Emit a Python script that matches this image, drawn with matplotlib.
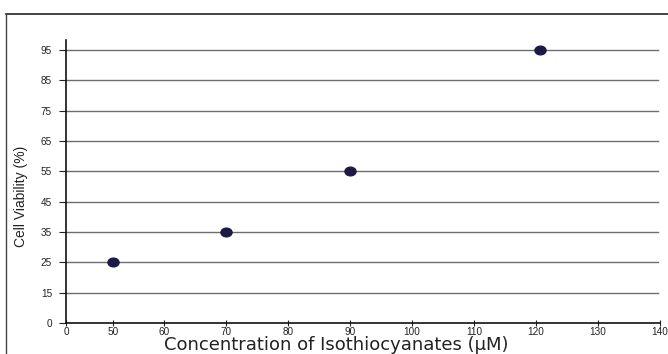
import numpy as np
import matplotlib
matplotlib.use("Agg")
import matplotlib.pyplot as plt
from matplotlib.path import Path
from matplotlib.transforms import Affine2D
from matplotlib.lines import Line2D

# data
conc = [50, 70, 90, 120.7]
viability = [25, 35, 55, 95]

x_tick_labels = [0, 50, 60, 70, 80, 90, 100, 110, 120, 130, 140]
y_tick_labels = [0, 15, 25, 35, 45, 55, 65, 75, 85, 95]

# the original axes is not linear at the low end, so ticks sit at fixed places
x_tick_pos = [44.2, 51.8] + list(range(60, 141, 10))
y_tick_pos = list(range(5, 96, 10))


def to_x(v):
    return np.interp(v, x_tick_labels, x_tick_pos)


def to_y(v):
    return np.interp(v, y_tick_labels, y_tick_pos)


plt.rcParams["font.family"] = ["Liberation Sans", "DejaVu Sans"]

fig = plt.figure(figsize=(6.68, 3.54), dpi=100)
ax = fig.add_axes([66 / 668, 1 - 323 / 354, (660 - 66) / 668, (323 - 40) / 354])

for yp in y_tick_pos[1:]:
    ax.axhline(yp, xmin=0, xmax=0.997, color="#6e6e6e", lw=1.0, zorder=1)

ellipse = Path.unit_circle().transformed(Affine2D().scale(1.0, 0.78))
ax.plot(to_x(conc), to_y(viability), linestyle="none", marker=ellipse,
        markersize=8, color="#1c1a45", zorder=3)

ax.set_xlim(x_tick_pos[0], x_tick_pos[-1])
ax.set_ylim(5, 98.3)
ax.set_xticks(x_tick_pos)
ax.set_xticklabels([str(v) for v in x_tick_labels])
ax.set_yticks(y_tick_pos)
ax.set_yticklabels([str(v) for v in y_tick_labels])
ax.tick_params(axis="x", direction="inout", length=4, width=0.8,
               labelsize=7.2, pad=1, colors="#222222")
ax.tick_params(axis="y", direction="out", length=5, width=0.8,
               labelsize=7.2, pad=5, colors="#222222")

for side in ["top", "right"]:
    ax.spines[side].set_visible(False)
for side in ["left", "bottom"]:
    ax.spines[side].set_linewidth(1.2)
    ax.spines[side].set_color("#111111")

ax.set_xlabel("Concentration of Isothiocyanates (\u00b5M)", fontsize=13,
              family="DejaVu Sans", color="#222222")
ax.xaxis.set_label_coords((336 - 66) / 594, -(336 - 323) / 283)
ax.set_ylabel("Cell Viability (%)", fontsize=10, color="#222222")
ax.yaxis.set_label_coords(-(66 - 28) / 594, (323 - 196) / 283)

# outer frame of the original figure (top and left edges)
fig.add_artist(Line2D([6 / 668, 1], [1 - 14 / 354, 1 - 14 / 354],
                      transform=fig.transFigure, color="#222222", lw=1.2))
fig.add_artist(Line2D([6 / 668, 6 / 668], [0, 1 - 14 / 354],
                      transform=fig.transFigure, color="#444444", lw=1.0))

fig.savefig("out.png", dpi=100)
